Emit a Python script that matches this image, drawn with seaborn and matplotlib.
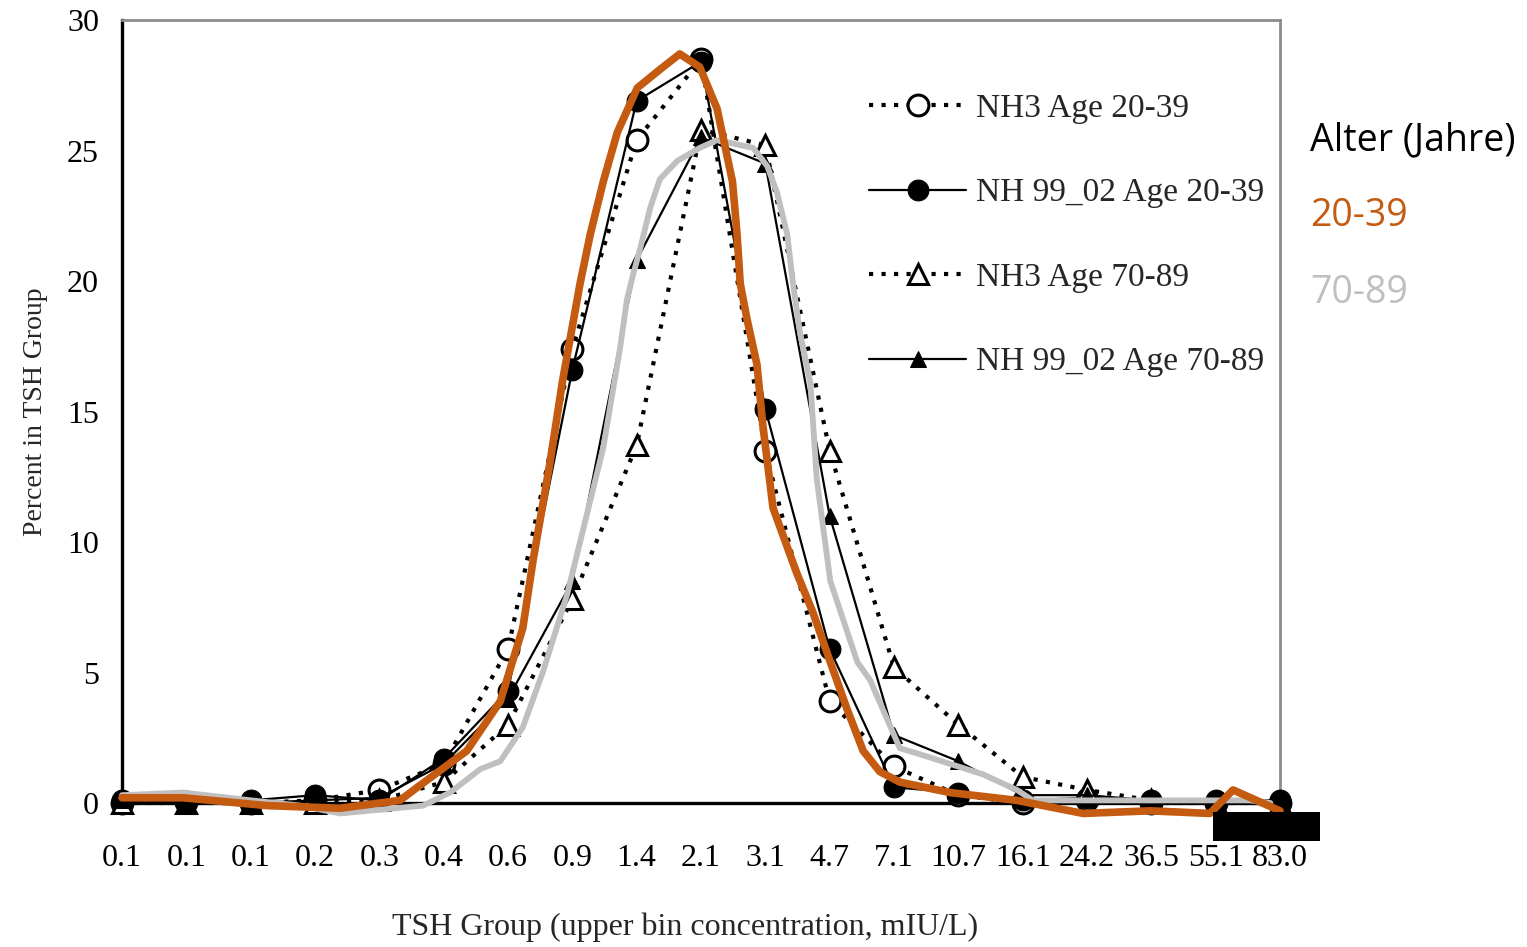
"""TSH distribution by age group: NHANES III vs NHANES 99-02, with hand-drawn overlays."""

import matplotlib
matplotlib.use("Agg")
import matplotlib.pyplot as plt
import numpy as np
import pandas as pd
import seaborn as sns
from matplotlib.patches import Rectangle

# x categories (upper bin concentration, mIU/L)
tsh_labels = ["0.1", "0.1", "0.1", "0.2", "0.3", "0.4", "0.6", "0.9", "1.4", "2.1",
              "3.1", "4.7", "7.1", "10.7", "16.1", "24.2", "36.5", "55.1", "83.0"]

# percent in TSH group
nh3_20_39 = [0.0, 0.05, 0.0, 0.1, 0.5, 1.5, 5.9, 17.4, 25.4, 28.5,
             13.5, 3.9, 1.4, 0.3, 0.0, 0.1, 0.0, 0.0, 0.0]
nh9902_20_39 = [0.1, 0.0, 0.1, 0.3, 0.1, 1.7, 4.3, 16.6, 26.9, 28.4,
                15.1, 5.9, 0.6, 0.4, 0.1, 0.2, 0.1, 0.1, 0.1]
nh3_70_89 = [0.0, 0.0, 0.0, 0.0, 0.1, 0.8, 3.0, 7.8, 13.7, 25.8,
             25.2, 13.5, 5.2, 3.0, 1.0, 0.5, 0.1, 0.0, 0.0]
nh9902_70_89 = [0.1, 0.0, 0.0, 0.1, 0.2, 1.5, 4.0, 8.5, 20.8, 25.5,
                24.5, 11.0, 2.6, 1.6, 0.3, 0.3, 0.1, 0.0, 0.0]

# hand-drawn highlight curves (x in category-index units)
orange_x = [0.00, 0.95, 2.25, 3.39, 4.32, 4.59, 5.36, 5.88, 6.23, 6.39, 6.65, 6.85,
            7.12, 7.28, 7.48, 7.70, 8.01, 8.36, 8.67, 8.98, 9.25, 9.49, 9.56, 9.61,
            9.71, 9.87, 9.96, 10.12, 10.49, 10.74, 11.01, 11.27, 11.52, 11.78, 12.09,
            12.87, 13.91, 14.94, 15.98, 16.91, 17.27, 18.00]
orange_y = [0.2, 0.2, -0.1, -0.2, 0.1, 0.6, 2.0, 3.9, 6.7, 9.3, 13.0, 16.2,
            19.9, 21.8, 23.8, 25.7, 27.4, 28.1, 28.7, 28.2, 26.6, 23.8, 21.8, 19.9,
            18.6, 16.8, 14.5, 11.3, 8.8, 7.3, 5.4, 3.6, 2.0, 1.2, 0.8,
            0.4, 0.1, -0.4, -0.3, -0.4, 0.5, -0.3]
gray_x = [0.00, 0.95, 2.01, 2.77, 3.39, 4.68, 5.10, 5.57, 5.88, 6.23, 6.54, 6.92,
          7.23, 7.48, 7.63, 7.74, 7.85, 7.94, 8.05, 8.21, 8.36, 8.63, 8.98, 9.25,
          9.81, 10.03, 10.18, 10.34, 10.43, 10.54, 10.70, 10.80, 11.01, 11.43, 11.63,
          12.09, 12.36, 13.38, 13.91, 14.16, 17.53, 17.85]
gray_y = [0.3, 0.4, 0.1, -0.1, -0.4, -0.1, 0.4, 1.3, 1.6, 2.9, 5.0, 8.0,
          11.1, 13.6, 15.8, 17.4, 19.3, 20.2, 21.2, 22.8, 23.9, 24.6, 25.1, 25.4,
          25.1, 24.4, 23.4, 21.8, 19.9, 18.0, 16.1, 12.4, 8.5, 5.4, 4.7,
          2.1, 1.9, 1.1, 0.5, 0.1, 0.1, 0.0]

sns.set_style("white")
plt.rcParams["font.family"] = ["Liberation Serif", "DejaVu Serif"]

W, H = 1527, 947
fig = plt.figure(figsize=(W / 100, H / 100), dpi=100)
ax = fig.add_axes([122 / W, 1 - 803 / H, (1280 - 122) / W, (803 - 20) / H])

pos = np.arange(len(tsh_labels))
df = pd.DataFrame({"pos": pos, "nh3_20_39": nh3_20_39, "nh9902_20_39": nh9902_20_39,
                   "nh3_70_89": nh3_70_89, "nh9902_70_89": nh9902_70_89})

dotted = (0, (1.0, 2.0))
sns.lineplot(data=df, x="pos", y="nh3_20_39", ax=ax, color="black", lw=3,
             linestyle=dotted, marker="o", markersize=15, markerfacecolor="white",
             markeredgecolor="black", markeredgewidth=2.2, clip_on=False,
             label="NH3 Age 20-39", zorder=3)
sns.lineplot(data=df, x="pos", y="nh9902_20_39", ax=ax, color="black", lw=1.6,
             marker="o", markersize=15, markerfacecolor="black",
             markeredgecolor="black", clip_on=False,
             label="NH 99_02 Age 20-39", zorder=3)
sns.lineplot(data=df, x="pos", y="nh3_70_89", ax=ax, color="black", lw=3,
             linestyle=dotted, marker="^", markersize=15, markerfacecolor="white",
             markeredgecolor="black", markeredgewidth=2.2, clip_on=False,
             label="NH3 Age 70-89", zorder=3)
sns.lineplot(data=df, x="pos", y="nh9902_70_89", ax=ax, color="black", lw=1.6,
             marker="^", markersize=12, markerfacecolor="black",
             markeredgecolor="black", clip_on=False,
             label="NH 99_02 Age 70-89", zorder=3)

sns.lineplot(x=gray_x, y=gray_y, ax=ax, color="#BFBFBF", lw=4.2, sort=False,
             estimator=None, clip_on=False, zorder=4, legend=False)
sns.lineplot(x=orange_x, y=orange_y, ax=ax, color="#C55A11", lw=5.5, sort=False,
             estimator=None, clip_on=False, zorder=5, legend=False)

ax.set_xlim(0, len(tsh_labels) - 1)
ax.set_ylim(0, 30)
ax.set_xticks(pos)
ax.set_xticklabels(tsh_labels)
ax.set_yticks(range(0, 31, 5))
ax.tick_params(axis="x", direction="inout", length=15, width=2, pad=22,
               labelsize=23, colors="black")
ax.tick_params(axis="y", direction="inout", length=15, width=2, pad=9,
               labelsize=23, colors="black")
ax.set_xlabel("TSH Group (upper bin concentration, mIU/L)", fontsize=23)
ax.xaxis.set_label_coords((685 - 122) / (1280 - 122), -0.14)
ax.set_ylabel("Percent in TSH Group", fontsize=20, labelpad=14)

for side in ("left", "bottom"):
    ax.spines[side].set_color("black")
    ax.spines[side].set_linewidth(2.4)
for side in ("top", "right"):
    ax.spines[side].set_color("#8C8C8C")
    ax.spines[side].set_linewidth(2)
ax.spines["bottom"].set_zorder(2)

leg = ax.legend(loc="upper left", bbox_to_anchor=(856 / W, 1 - 80 / H),
                bbox_transform=fig.transFigure, frameon=False, fontsize=24,
                handlelength=2.9, handletextpad=0.3, labelspacing=1.62,
                borderaxespad=0)

fig.text(1310 / W, 1 - 140 / H, "Alter (Jahre)", fontsize=27, family="Open Sans",
         va="center", ha="left", color="black")
fig.text(1310 / W, 1 - 216 / H, "20-39", fontsize=27, family="Open Sans",
         va="center", ha="left", color="#C55A11")
fig.text(1310 / W, 1 - 293 / H, "70-89", fontsize=27, family="Open Sans",
         va="center", ha="left", color="#BFBFBF")

# black box in the lower right corner
fig.patches.append(Rectangle((1213 / W, 1 - 841 / H), 107 / W, 29 / H,
                             transform=fig.transFigure, facecolor="black",
                             edgecolor="none", zorder=10))

fig.savefig("out.png", dpi=100)
plt.close(fig)
